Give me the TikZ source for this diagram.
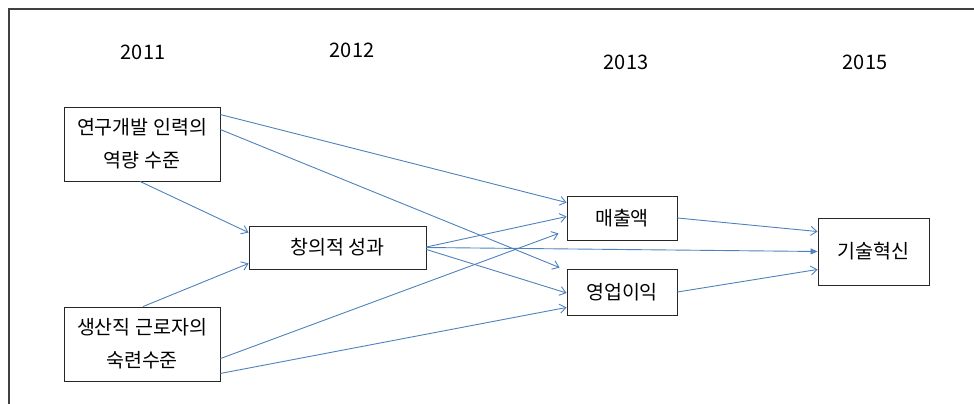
\documentclass[tikz,border=0pt]{standalone}
\usepackage{fontspec}
\setmainfont{Noto Sans CJK KR}
\usetikzlibrary{arrows.meta}
\definecolor{linkblue}{RGB}{79,129,189}
\definecolor{framegray}{RGB}{64,64,64}
\tikzset{
  box/.style={draw=black!85, line width=0.9pt, inner sep=0pt, align=center,
    font=\fontsize{19.5}{33}\selectfont},
  yearlbl/.style={font=\fontsize{20}{22}\selectfont, inner sep=0pt},
  conn/.style={draw=linkblue, line width=0.9pt, -{Straight Barb[length=6pt,width=9pt,line width=0.9pt]}},
  fconn/.style={draw=linkblue, line width=0.9pt, -{Triangle[length=7pt,width=6pt]}}
}
\begin{document}
\begin{tikzpicture}[x=1pt,y=-1pt]
\useasboundingbox (0,0) rectangle (974,404);
\draw[framegray, line width=2pt] (9,404) -- (9,9) -- (974,9);
\node[yearlbl] (y1) at (143,52) {2011};
\node[yearlbl] (y2) at (352,50) {2012};
\node[yearlbl] (y3) at (626,62) {2013};
\node[yearlbl] (y4) at (865,62) {2015};
\node[box, minimum width=156pt, minimum height=74pt] (A) at (142,144) {연구개발 인력의\\역량 수준};
\node[box, minimum width=177pt, minimum height=43pt] (B) at (337.5,247.5) {창의적 성과};
\node[box, minimum width=156pt, minimum height=74pt] (C) at (142,344) {생산직 근로자의\\숙련수준};
\node[box, minimum width=110pt, minimum height=44pt] (D) at (622,218) {매출액};
\node[box, minimum width=110pt, minimum height=46pt] (E) at (622,292) {영업이익};
\node[box, minimum width=111pt, minimum height=67pt] (F) at (873.5,251.5) {기술혁신};
\draw[conn] ([yshift=-8pt]A.north east) -- ([yshift=-7pt]D.north west);
\draw[conn] ([yshift=-23pt]A.north east) -- ([xshift=-7pt,yshift=1pt]E.north west);
\draw[conn] ([xshift=-2pt]A.south) -- ([yshift=-7pt]B.north west);
\draw[conn] ([xshift=1pt]C.north) -- ([yshift=6pt]B.south west);
\draw[conn] ([yshift=0.5pt]B.east) -- ([yshift=-21pt]D.north west);
\draw[fconn] (B.east) -- (F.west);
\draw[conn] ([yshift=-2pt]B.east) -- ([yshift=-1pt]E.west);
\draw[conn] ([yshift=-52pt]C.north east) -- ([xshift=-8pt,yshift=7pt]D.south west);
\draw[conn] ([yshift=8pt]C.south east) -- ([yshift=8pt]E.south west);
\draw[conn] (D.east) -- ([yshift=-14pt]F.north west);
\draw[conn] (E.east) -- ([yshift=16pt]F.south west);
\end{tikzpicture}
\end{document}
